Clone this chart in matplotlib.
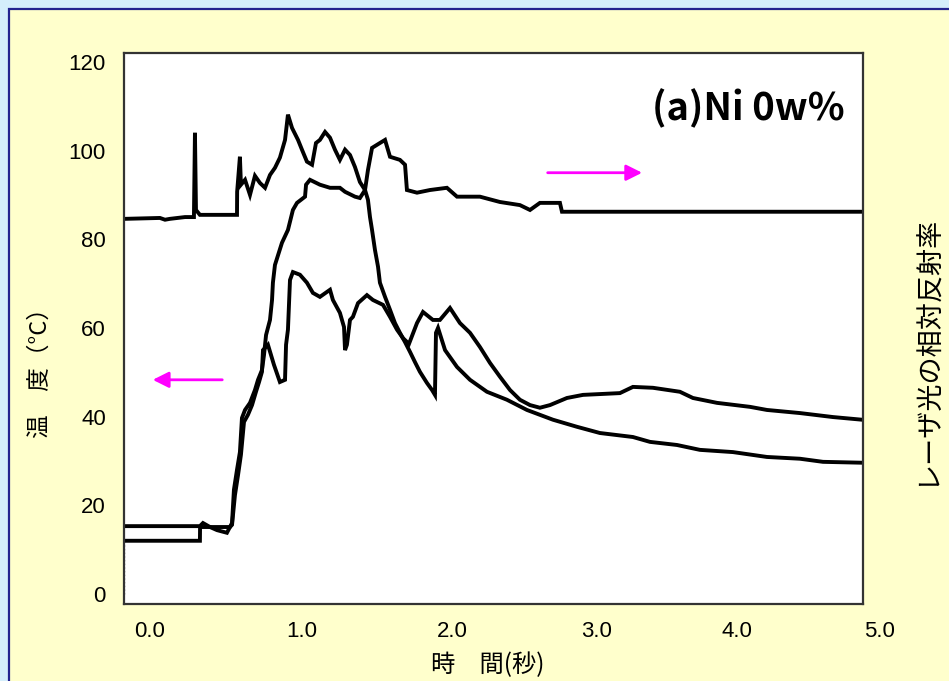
"""
Temperature and relative laser reflectance vs time, (a) Ni 0w%
"""

import matplotlib.pyplot as plt
from matplotlib.patches import Rectangle

# Reflectance curve (drawn on the temperature scale, arrow points right)
refl_t = [-0.171, 0.068, 0.103, 0.137, 0.240, 0.301, 0.308, 0.315, 0.342, 0.596,
          0.597, 0.616, 0.623, 0.651, 0.685, 0.719, 0.753, 0.788, 0.822, 0.856,
          0.890, 0.925, 0.945, 0.973, 1.014, 1.041, 1.075, 1.110, 1.137, 1.164,
          1.199, 1.233, 1.267, 1.301, 1.336, 1.370, 1.404, 1.438, 1.473, 1.493,
          1.521, 1.575, 1.610, 1.644, 1.712, 1.747, 1.760, 1.829, 1.918, 2.034,
          2.103, 2.260, 2.397, 2.534, 2.603, 2.671, 2.808, 2.822, 4.884]
refl_v = [84.6, 84.8, 84.4, 84.6, 85.0, 85.0, 104.0, 86.6, 85.5, 85.5,
          90.7, 98.6, 92.3, 93.4, 90.0, 94.3, 92.7, 91.6, 94.5, 96.1,
          98.4, 102.4, 108.1, 105.1, 102.4, 100.2, 97.5, 96.8, 101.7, 102.4,
          104.2, 102.9, 100.2, 97.9, 100.2, 99.0, 96.3, 92.9, 91.1, 95.6,
          100.6, 101.7, 102.4, 98.6, 97.9, 96.8, 91.1, 90.5, 91.1, 91.6,
          89.6, 89.6, 88.4, 87.7, 86.6, 88.2, 88.2, 86.2, 86.2]

# Temperature curve with the high peak
high_t = [-0.178, 0.342, 0.363, 0.411, 0.459, 0.527, 0.562, 0.575, 0.596, 0.616,
          0.630, 0.651, 0.685, 0.719, 0.740, 0.767, 0.781, 0.795, 0.822, 0.836,
          0.842, 0.856, 0.904, 0.945, 0.979, 1.007, 1.062, 1.069, 1.096, 1.164,
          1.233, 1.301, 1.336, 1.404, 1.438, 1.473, 1.493, 1.507, 1.521, 1.541,
          1.562, 1.575, 1.610, 1.644, 1.678, 1.712, 1.747, 1.781, 1.815, 1.849,
          1.897, 1.932, 1.952, 1.959, 1.973, 2.021, 2.103, 2.192, 2.308, 2.445,
          2.582, 2.760, 2.925, 3.082, 3.308, 3.425, 3.610, 3.767, 3.993, 4.226,
          4.452, 4.610, 4.877]
high_v = [15.3, 15.3, 16.0, 15.1, 14.4, 13.8, 16.0, 23.5, 28.0, 32.0,
          39.7, 41.5, 43.1, 46.0, 48.3, 50.5, 53.9, 58.4, 61.8, 66.3,
          70.2, 74.2, 79.2, 82.1, 86.6, 88.2, 89.6, 92.3, 93.4, 92.3,
          91.6, 91.6, 90.7, 89.6, 89.3, 91.1, 88.9, 85.0, 82.1, 77.6,
          73.8, 70.2, 67.0, 64.1, 61.1, 58.9, 56.8, 54.6, 52.3, 50.1,
          47.6, 46.0, 44.9, 58.9, 60.0, 55.0, 51.2, 48.3, 45.6, 43.8,
          41.5, 39.3, 37.7, 36.3, 35.4, 34.3, 33.6, 32.5, 32.0, 30.9,
          30.5, 29.8, 29.6]

# Temperature curve with the lower peak
low_t = [-0.178, -0.178, 0.342, 0.343, 0.548, 0.562, 0.582, 0.603, 0.623, 0.644,
         0.671, 0.699, 0.726, 0.747, 0.767, 0.774, 0.808, 0.849, 0.890, 0.925,
         0.932, 0.945, 0.952, 0.959, 0.979, 1.027, 1.075, 1.116, 1.164, 1.233,
         1.253, 1.301, 1.329, 1.336, 1.349, 1.370, 1.390, 1.425, 1.486, 1.527,
         1.596, 1.644, 1.692, 1.733, 1.774, 1.829, 1.870, 1.938, 1.986, 2.055,
         2.123, 2.192, 2.260, 2.329, 2.397, 2.466, 2.534, 2.603, 2.671, 2.740,
         2.856, 2.966, 3.219, 3.308, 3.445, 3.630, 3.719, 3.884, 4.110, 4.226,
         4.452, 4.678, 4.877]
low_v = [0.0, 12.0, 12.0, 15.1, 15.1, 15.6, 22.3, 26.8, 31.4, 38.8,
         40.4, 42.6, 45.6, 47.8, 50.1, 55.0, 56.2, 51.7, 47.8, 48.3,
         56.2, 59.6, 65.2, 70.8, 72.6, 72.0, 70.2, 67.9, 67.0, 68.6,
         66.3, 63.4, 60.2, 55.0, 56.2, 61.8, 62.5, 65.6, 67.4, 66.3,
         65.2, 62.5, 59.6, 57.7, 56.4, 61.1, 63.6, 61.8, 61.8, 64.5,
         61.1, 58.9, 55.7, 52.1, 49.0, 46.0, 43.8, 42.6, 42.0, 42.6,
         44.2, 44.9, 45.3, 46.7, 46.5, 45.6, 44.2, 43.1, 42.2, 41.5,
         40.8, 39.9, 39.3]

y_ticks = [0, 20, 40, 60, 80, 100, 120]
x_tick_pos = [0.0, 1.04, 2.07, 3.06, 4.02, 5.0]
x_tick_labels = ["0.0", "1.0", "2.0", "3.0", "4.0", "5.0"]

jp = ["Noto Sans CJK JP", "DejaVu Sans"]
num_font = "Liberation Sans"

# Figure with light blue page and yellow panel
fig = plt.figure(figsize=(9.49, 6.81), dpi=100, facecolor="#D4EEFB")
fig.patches.append(Rectangle((8.5 / 949, -0.1), 1.2, (681 - 8.5) / 681 + 0.1,
                             transform=fig.transFigure, facecolor="#FFFFCC",
                             edgecolor="#23238F", lw=1.6, zorder=-10))

ax = fig.add_axes([124 / 949, 77 / 681, 739 / 949, 551 / 681])
ax.set_facecolor("white")

# Curves
lw = 2.8
ax.plot(refl_t, refl_v, color="black", lw=lw, solid_joinstyle="miter")
ax.plot(high_t, high_v, color="black", lw=lw, solid_joinstyle="miter")
ax.plot(low_t[:2], low_v[:2], color="#666666", lw=1, ls=":")
ax.plot(low_t[1:], low_v[1:], color="black", lw=lw, solid_joinstyle="miter")

ax.set_xlim(-0.178, 4.884)
ax.set_ylim(-2.26, 122.0)

for s in ax.spines.values():
    s.set_color("#333333")
    s.set_linewidth(1.6)

ax.set_yticks(y_ticks)
ax.set_yticklabels([str(v) for v in y_ticks])
ax.set_xticks(x_tick_pos[:-1])
ax.set_xticklabels(x_tick_labels[:-1])
ax.tick_params(axis="y", length=0, pad=13, labelsize=16)
ax.tick_params(axis="x", length=0, pad=12, labelsize=16)
for lab in ax.get_xticklabels() + ax.get_yticklabels():
    lab.set_fontfamily(num_font)
# last x label sits outside the plot area
ax.annotate(x_tick_labels[-1], xy=(x_tick_pos[-1], 0), xycoords=("data", "axes fraction"),
            xytext=(0, -12), textcoords="offset points", ha="center", va="top",
            fontsize=16, family=num_font, annotation_clip=False)

# Arrows showing which axis each curve belongs to
ax.annotate("", xy=(0.0, 48.3), xytext=(0.514, 48.3),
            arrowprops=dict(arrowstyle="-|>", color="#FF00FF", lw=2, mutation_scale=24))
ax.annotate("", xy=(3.39, 95.0), xytext=(2.705, 95.0),
            arrowprops=dict(arrowstyle="-|>", color="#FF00FF", lw=2, mutation_scale=24))

# Panel title
ax.text(0.9756, 0.900, "(a)Ni 0w%", transform=ax.transAxes, ha="right", va="center",
        fontsize=27.5, family=jp, fontweight="bold")

# Axis titles
fig.text(488 / 949, 1 - 665 / 681, "時　間(秒)", ha="center", va="center",
         fontsize=17.5, family=jp)
fig.text(40 / 949, 1 - 367 / 681, "温　度（°C）", ha="center", va="center",
         rotation=90, fontsize=17, family=jp)
fig.text(927 / 949, 1 - 350 / 681, "レーザ光の相対反射率", ha="center", va="center",
         rotation=90, fontsize=19.5, family=jp)

fig.savefig("out.png", dpi=100, facecolor=fig.get_facecolor())
